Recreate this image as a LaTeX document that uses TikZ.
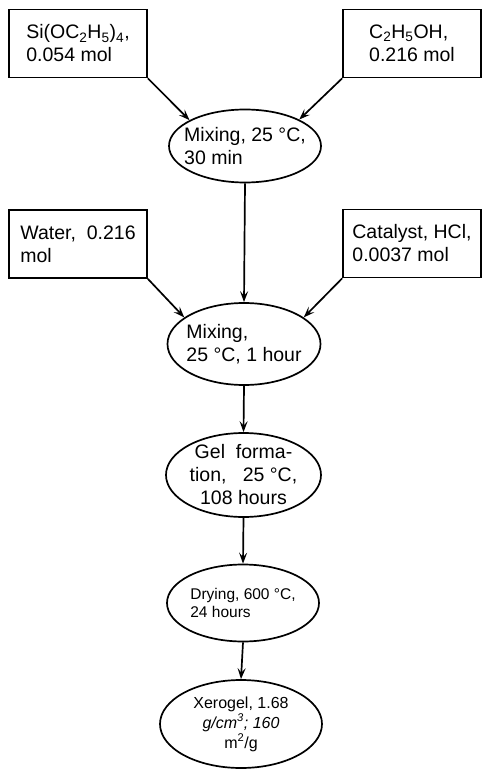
\documentclass[tikz,border=0pt]{standalone}
\usepackage{fontspec}
\setmainfont{Liberation Sans}
\usetikzlibrary{shapes.geometric,arrows.meta}

\begin{document}
\begin{tikzpicture}[x=1pt,y=-1pt,
	feed/.style={draw, line width=1.7pt, minimum width=138pt, minimum height=68pt, inner sep=0pt, align=left, font=\fontsize{19.5}{23}\selectfont},
	stage/.style={draw, ellipse, line width=1.7pt, inner sep=-25pt, font=\fontsize{19.5}{23}\selectfont},
	flow/.style={line width=1.7pt, -{Stealth[length=11pt,width=8pt,inset=4.5pt]}}]
	\useasboundingbox (0,0) rectangle (482,770);

	\node[feed] (teos) at (78,43.5) {Si(OC\textsubscript{2}H\textsubscript{5})\textsubscript{4},\\0.054 mol};
	\node[feed] (etoh) at (412,43.5) {C\textsubscript{2}H\textsubscript{5}OH,\\0.216 mol};
	\node[feed] (water) at (78,244) {Water,\ \ 0.216\\mol};
	\node[feed] (hcl) at (412,243.5) {Catalyst, HCl,\\0.0037 mol};

	\node[stage, minimum width=152pt, minimum height=73pt, align=left] (mix1) at (245,146) {Mixing, 25 °C,\\30 min};
	\node[stage, minimum width=153pt, minimum height=82pt, align=left] (mix2) at (244,344) {Mixing,\\25 °C, 1 hour};
	\node[stage, minimum width=155pt, minimum height=84pt, align=center] (gel) at (243.5,475) {Gel\ \ forma-\\tion,\ \ \ 25 °C,\\108 hours};
	\node[stage, minimum width=152pt, minimum height=77pt, align=left, font=\fontsize{15.5}{18}\selectfont] (dry) at (243,603) {Drying, 600 °C,\\24 hours};
	\node[stage, minimum width=162pt, minimum height=88pt, align=center, font=\fontsize{16}{20}\selectfont] (xero) at (241,724) {Xerogel, 1.68\\\textit{g/cm\textsuperscript{3}; 160}\\m\textsuperscript{2}/g};

	% first mixing
	\draw[flow] (teos.south east) -- (mix1.155);
	\draw[flow] (etoh.south west) -- (mix1.26);
	% second mixing
	\draw[flow] (mix1.south) -- (mix2.north);
	\draw[flow] (water.south east) -- (mix2.156);
	\draw[flow] (hcl.south west) -- (mix2.24);
	% gel, drying
	\draw[flow] (mix2.south) -- (gel.north);
	\draw[flow] (gel.south) -- (dry.north);
	\draw[flow] (dry.south) -- (xero.north);
\end{tikzpicture}
\end{document}
